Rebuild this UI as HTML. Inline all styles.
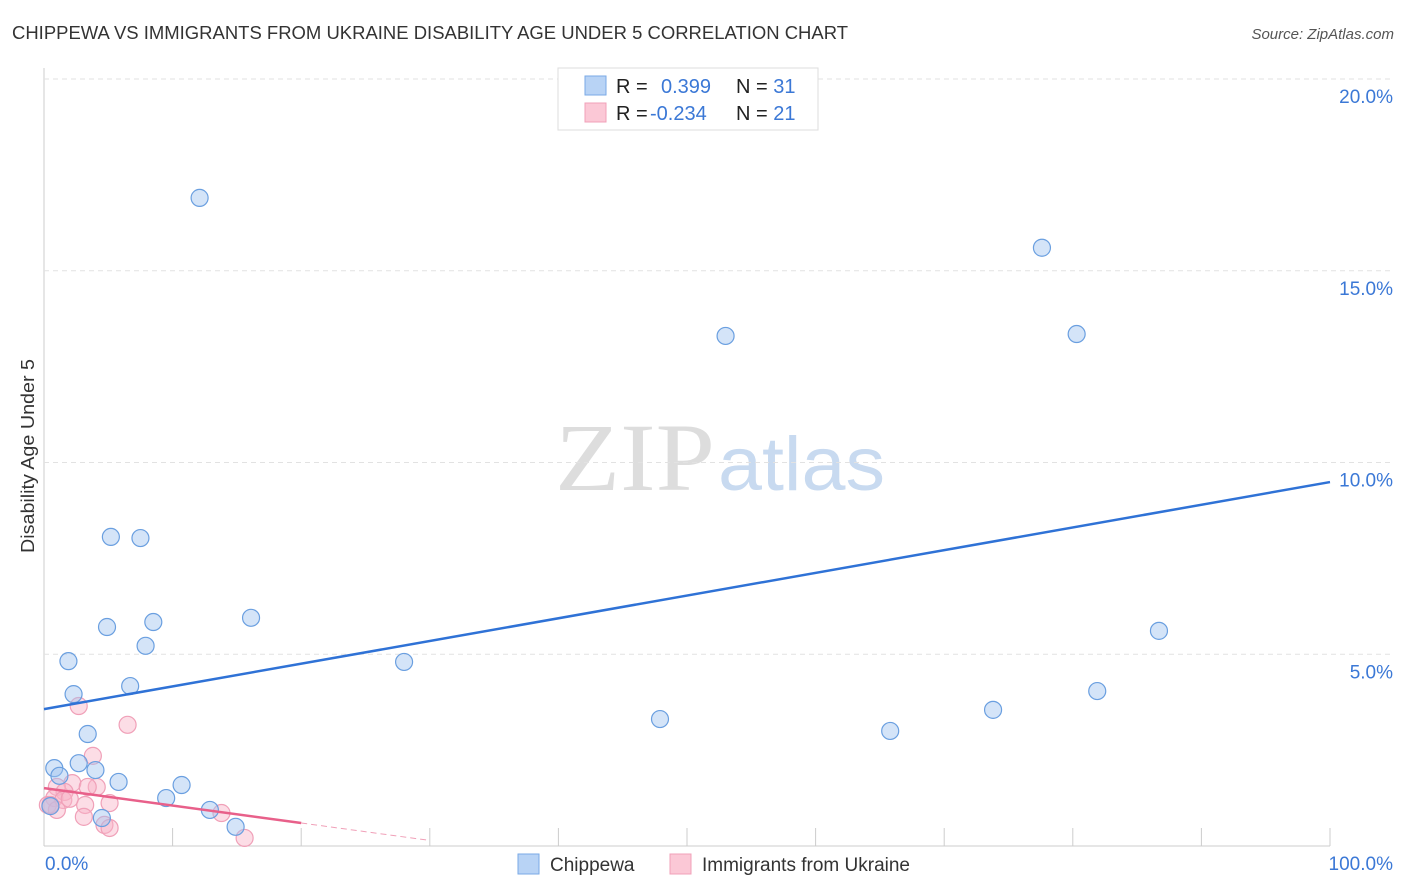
<!DOCTYPE html>
<html><head><meta charset="utf-8"><style>
body{margin:0;background:#fff;font-family:"Liberation Sans",sans-serif}
</style></head><body>
<svg id="c" width="1406" height="892" style="display:block">
<text x="12" y="39" font-size="18" fill="#333" textLength="836" lengthAdjust="spacingAndGlyphs">CHIPPEWA VS IMMIGRANTS FROM UKRAINE DISABILITY AGE UNDER 5 CORRELATION CHART</text>
<text x="1394" y="39" font-size="15" fill="#555" font-style="italic" text-anchor="end">Source: ZipAtlas.com</text>
<text transform="translate(34,456) rotate(-90)" font-size="18" fill="#333" text-anchor="middle" textLength="194" lengthAdjust="spacingAndGlyphs">Disability Age Under 5</text>
<text x="555" y="490" font-size="96" fill="#ddd" font-family="Liberation Serif,serif" textLength="160" lengthAdjust="spacingAndGlyphs">ZIP</text>
<text x="718" y="490" font-size="76" fill="#c8daf0" textLength="167" lengthAdjust="spacingAndGlyphs">atlas</text>
<g id="grid"></g><g id="pts"></g><g id="trend"></g>
<g>
<rect x="558" y="68" width="260" height="62" fill="#fff" stroke="#ddd"/>
<rect x="585" y="76" width="21" height="19" fill="#b8d3f5" stroke="#7aaae6"/>
<rect x="585" y="103" width="21" height="19" fill="#fbc8d6" stroke="#f0a0b8"/>
<text x="616" y="93" font-size="20" fill="#222">R = <tspan x="661" fill="#3b78d6">0.399</tspan><tspan x="736">N = </tspan><tspan fill="#3b78d6">31</tspan></text>
<text x="616" y="120" font-size="20" fill="#222">R = <tspan x="650" fill="#3b78d6">-0.234</tspan><tspan x="736">N = </tspan><tspan fill="#3b78d6">21</tspan></text>
</g>
<g>
<rect x="518" y="854" width="21" height="20" fill="#b8d3f5" stroke="#7aaae6"/>
<text x="550" y="871" font-size="19" fill="#333">Chippewa</text>
<rect x="670" y="854" width="21" height="20" fill="#fbc8d6" stroke="#f0a0b8"/>
<text x="702" y="871" font-size="19" fill="#333">Immigrants from Ukraine</text>
</g>
</svg>
<script>
const yTicks=[5,10,15,20];
const yTickLabels=["5.0%","10.0%","15.0%","20.0%"];
const xLabels=["0.0%","100.0%"];
const blueX=[12.1,77.6,53.0,80.3,5.2,7.5,4.9,8.5,16.1,7.9,1.9,28.0,86.7,2.3,6.7,81.9,47.9,73.8,65.8,3.4,0.8,2.7,4.0,1.2,5.8,10.7,9.5,12.9,4.5,14.9,0.5];
const blueY=[16.9,15.6,13.3,13.35,8.06,8.03,5.71,5.84,5.95,5.22,4.82,4.80,5.61,3.96,4.17,4.04,3.31,3.55,3.0,2.92,2.03,2.16,1.98,1.83,1.67,1.59,1.25,0.94,0.73,0.50,1.04];
const pinkX=[2.7,6.5,3.8,2.2,4.1,1.0,3.4,1.6,0.8,3.2,5.1,0.3,1.5,3.1,4.7,5.1,13.8,15.6,1.0,0.5,2.0];
const pinkY=[3.65,3.16,2.35,1.64,1.54,1.54,1.54,1.41,1.25,1.07,1.12,1.07,1.2,0.76,0.55,0.47,0.86,0.21,0.94,1.07,1.23];
const blueTrend=[3.57,9.49];
const pinkTrend=[1.51,0.60];
const X=v=>44+v*12.86, Y=v=>846-v*38.35;
const NS="http://www.w3.org/2000/svg";
function mk(tag,at,parent){const e=document.createElementNS(NS,tag);for(const k in at)e.setAttribute(k,at[k]);document.getElementById(parent).appendChild(e);return e;}
const ax=mk('line',{x1:44,y1:68,x2:44,y2:846,stroke:'#ccc'},'grid');


const bx=mk('line',{x1:44,y1:846,x2:1330,y2:846,stroke:'#ccc'},'grid');


yTicks.forEach((t,i)=>{
 const g=mk('line',{x1:44,x2:1394,y1:Y(t),y2:Y(t),stroke:'#e2e2e2','stroke-dasharray':'5,4'},'grid');
 
 
 const l=mk('text',{x:1393,y:Y(t)+24,'font-size':19,fill:'#3b78d6','text-anchor':'end'},'grid');l.textContent=yTickLabels[i];
 
 
});
for(let i=1;i<=10;i++){const t=mk('line',{x1:X(i*10),x2:X(i*10),y1:828,y2:846,stroke:'#ccc'},'grid');
 
 }
const l0=mk('text',{x:45,y:870,'font-size':19,fill:'#3b78d6'},'grid');l0.textContent=xLabels[0];


const l1=mk('text',{x:1393,y:870,'font-size':19,fill:'#3b78d6','text-anchor':'end'},'grid');l1.textContent=xLabels[1];


pinkX.forEach((v,i)=>{const c=mk('circle',{cx:X(v),cy:Y(pinkY[i]),r:8.5,fill:'rgba(248,180,200,0.45)',stroke:'#f0a0b8','stroke-width':1.2},'pts');
 
 });
blueX.forEach((v,i)=>{const c=mk('circle',{cx:X(v),cy:Y(blueY[i]),r:8.5,fill:'rgba(160,196,240,0.45)',stroke:'#6a9fe0','stroke-width':1.2},'pts');
 
 });
const bt=mk('line',{x1:X(0),y1:Y(blueTrend[0]),x2:X(100),y2:Y(blueTrend[1]),stroke:'#2f72d6','stroke-width':2.5},'trend');


const pt=mk('line',{x1:X(0),y1:Y(pinkTrend[0]),x2:X(20),y2:Y(pinkTrend[1]),stroke:'#e8608a','stroke-width':2.5},'trend');


const slope=(pinkTrend[1]-pinkTrend[0])/20;
const pd=mk('line',{x1:X(20),y1:Y(pinkTrend[1]),x2:X(30),y2:Y(pinkTrend[1]+slope*10),stroke:'#f0a0b8','stroke-width':1,'stroke-dasharray':'6,4'},'trend');


</script>
</body></html>
